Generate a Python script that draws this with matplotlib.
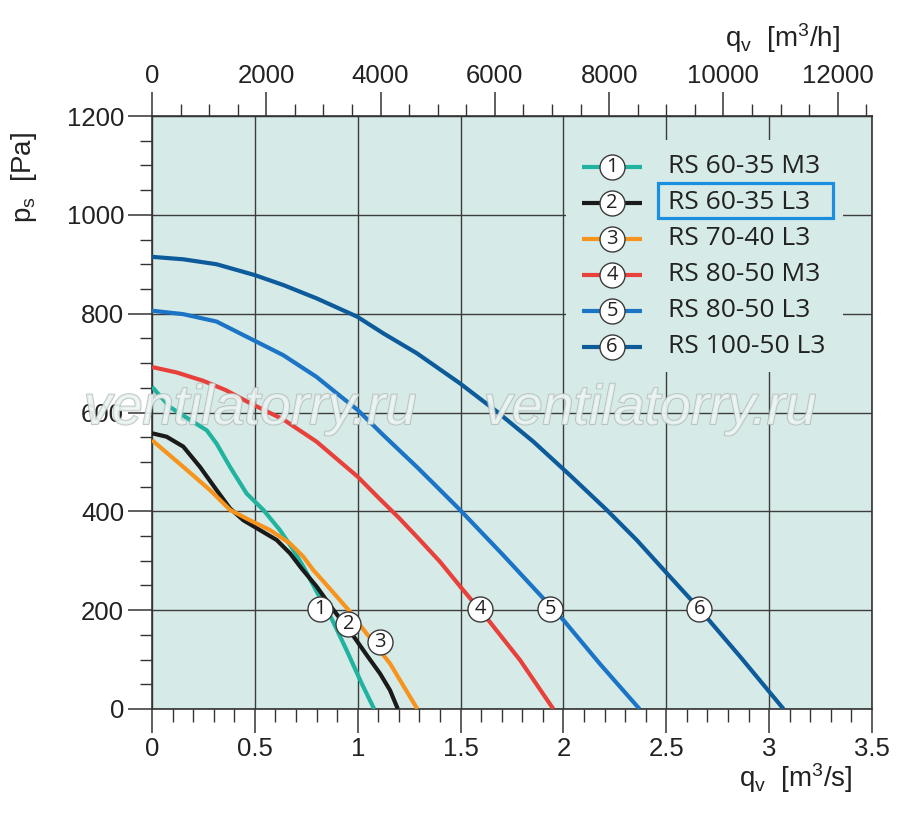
import numpy as np
import matplotlib
matplotlib.use("Agg")
import matplotlib.pyplot as plt
from matplotlib.ticker import MultipleLocator, FixedLocator
from matplotlib.patches import Rectangle
import matplotlib.patheffects as pe

plt.rcParams['font.family'] = ['Liberation Sans', 'DejaVu Sans']
plt.rcParams['mathtext.default'] = 'regular'

# ---- data (q in m3/s, p in Pa) ----
names = ["RS 60-35 M3", "RS 60-35 L3", "RS 70-40 L3",
         "RS 80-50 M3", "RS 80-50 L3", "RS 100-50 L3"]
colors = ['#1fb3a0', '#1a1a1a', '#f7941d', '#e8403a', '#1b74c5', '#0d5b9b']

q1 = [0, 0.0875, 0.185, 0.266, 0.314, 0.379, 0.46, 0.541, 0.622, 0.687, 0.736,
      0.80, 0.873, 0.946, 1.019, 1.08]
p1 = [652, 611, 585, 564, 537, 490, 436, 403, 362, 322, 288,
      238, 183, 119, 52, 0]

q2 = [0, 0.071, 0.152, 0.233, 0.314, 0.379, 0.444, 0.525, 0.606, 0.671, 0.728,
      0.80, 0.881, 0.987, 1.044, 1.108, 1.157, 1.195]
p2 = [558, 551, 531, 490, 443, 406, 382, 362, 342, 315, 284,
      248, 201, 143, 109, 72, 38, 0]

q3 = [0, 0.152, 0.282, 0.379, 0.476, 0.574, 0.671, 0.736, 0.784, 0.849, 0.954,
      1.035, 1.157, 1.29]
p3 = [544, 490, 443, 403, 382, 362, 335, 308, 281, 251, 201,
      157, 92, 0]

q4 = [0, 0.12, 0.25, 0.36, 0.476, 0.638, 0.80, 1.0, 1.1, 1.2, 1.3, 1.4, 1.5, 1.635,
      1.789, 1.951]
p4 = [692, 681, 664, 645, 619, 586, 541, 470, 428, 387, 343, 298, 247, 180,
      99, 0]

q5 = [0, 0.152, 0.314, 0.476, 0.638, 0.80, 0.898, 1.0, 1.125, 1.287, 1.384, 1.497,
      1.708, 2.0, 2.178, 2.37]
p5 = [806, 799, 784, 750, 716, 672, 639, 605, 554, 490, 450, 403,
      311, 180, 91, 0]

q6 = [0, 0.152, 0.314, 0.5, 0.638, 0.80, 0.997, 1.125, 1.287, 1.497, 1.676, 1.854,
      2.032, 2.21, 2.356, 2.502, 2.66, 2.859, 3.07]
p6 = [915, 910, 900, 878, 858, 831, 794, 760, 720, 659, 602, 541,
      473, 403, 342, 275, 203, 106, 0]

# circled number positions on the curves
lab_q = [0.817, 0.954, 1.108, 1.594, 1.935, 2.66]
lab_p = [202, 172, 136, 202, 202, 202]

top_ticks = [0, 2000, 4000, 6000, 8000, 10000, 12000]

curves = [(q1, p1), (q2, p2), (q3, p3), (q4, p4), (q5, p5), (q6, p6)]

bg = '#d6ebe7'
gridc = '#3c3c3c'
txtc = '#222222'

fig = plt.figure(figsize=(9, 8.16), dpi=100)
ax = fig.add_axes([152/900, 1-709/816, 720/900, 593/816])
ax.set_facecolor(bg)
ax.set_xlim(0, 3.5)
ax.set_ylim(0, 1200)
ax.set_axisbelow(True)
ax.grid(True, which='major', color=gridc, lw=1.0)

ax.xaxis.set_minor_locator(MultipleLocator(0.1))
ax.yaxis.set_major_locator(MultipleLocator(200))
ax.yaxis.set_minor_locator(MultipleLocator(50))
ax.set_xticks([0, 0.5, 1, 1.5, 2, 2.5, 3, 3.5])
ax.set_xticklabels(['0', '0.5', '1', '1.5', '2', '2.5', '3', '3.5'])
ax.tick_params(which='major', direction='out', length=17, width=1.1, color='#333333',
               labelsize=18.5, labelcolor=txtc, pad=3)
ax.tick_params(which='minor', direction='out', length=9, width=1.0, color='#333333')
for s in ax.spines.values():
    s.set_color('#333333')
    s.set_linewidth(1.2)

# top axis in m3/h
top = ax.secondary_xaxis('top', functions=(lambda x: x*3600, lambda x: x/3600))
top.xaxis.set_major_locator(FixedLocator(top_ticks))
top.xaxis.set_minor_locator(FixedLocator(np.arange(0, 12600, 500)))
top.tick_params(which='major', direction='out', length=17, width=1.1, color='#333333',
                labelsize=18.5, labelcolor=txtc, pad=3)
top.tick_params(which='minor', direction='out', length=9, width=1.0, color='#333333')

for (q, p), c in zip(curves, colors):
    ax.plot(q, p, color=c, lw=3.0, solid_capstyle='butt', solid_joinstyle='round',
            zorder=3)

for i, (lq, lp) in enumerate(zip(lab_q, lab_p)):
    ax.plot(lq, lp, 'o', ms=18, mfc='white', mec='#3a3a3a', mew=1.0, zorder=5)
    ax.text(lq, lp, str(i+1), ha='center', va='center', fontsize=14.5,
            family='Open Sans', color=txtc, zorder=6)

# legend drawn by hand (covers the grid)
ax.add_patch(Rectangle((0.575, 0.568), 0.385, 0.392, transform=ax.transAxes,
                       facecolor=bg, edgecolor='none', zorder=1))
row_y = 0.914
for i, (n, c) in enumerate(zip(names, colors)):
    y = row_y - i*0.0607
    ax.plot([0.597, 0.681], [y, y], color=c, lw=3.0, transform=ax.transAxes,
            solid_capstyle='butt', zorder=4)
    ax.plot(0.639, y, 'o', ms=18, mfc='white', mec='#3a3a3a', mew=1.0,
            transform=ax.transAxes, zorder=5)
    ax.text(0.639, y, str(i+1), ha='center', va='center', fontsize=14.5,
            family='Open Sans', color=txtc, transform=ax.transAxes, zorder=6)
    ax.text(0.717, y, n, ha='left', va='center', fontsize=19,
            family='Open Sans', color=txtc, transform=ax.transAxes, zorder=6)

# highlight box around the second model
ax.add_patch(Rectangle((0.703, 0.828), 0.243, 0.059, transform=ax.transAxes,
                       facecolor='none', edgecolor='#1a8fe0', lw=2.3, zorder=7))

# axis titles
fig.text(24/900, 1-178/816, r'$p_s$  [Pa]', rotation=90, ha='center', va='center',
         fontsize=20, color=txtc)
fig.text(853/900, 1-778/816, r'$q_v$  [m$^3$/s]', ha='right', va='center',
         fontsize=20, color=txtc)
fig.text(840/900, 1-38/816, r'$q_v$  [m$^3$/h]', ha='right', va='center',
         fontsize=20, color=txtc)

# watermark (mostly outline, light fill)
for xc in (250, 650):
    fig.text(xc/900, 1-410/816, 'ventilatorry.ru', ha='center', va='center',
             fontsize=40, style='italic', color=(0.93, 0.97, 0.96, 0.55), zorder=10,
             path_effects=[pe.withStroke(linewidth=1.5, foreground=(0.70, 0.73, 0.72, 0.8)),
                           pe.Normal()])

fig.savefig('out.png', dpi=100, facecolor='white')
